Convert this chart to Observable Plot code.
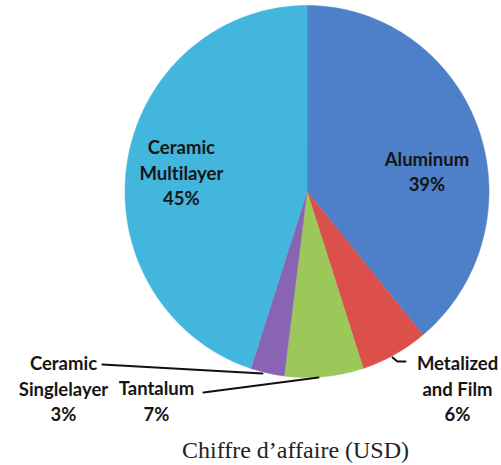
<!DOCTYPE html>
<html>
<head>
<meta charset="utf-8">
<script src="https://cdn.jsdelivr.net/npm/d3@7"></script>
<script src="https://cdn.jsdelivr.net/npm/@observablehq/plot@0.6"></script>
<style>
  html, body { margin: 0; padding: 0; background: #fff; }
  #chart svg { display: block; }
  #chart text { font-variant-ligatures: none; font-feature-settings: "liga" 0, "clig" 0; }
  #caption {
    font-family: "Liberation Serif", "Times New Roman", serif;
    font-size: 24px;
    line-height: 29px;
    color: #222;
    padding-left: 182px;
    white-space: nowrap;
  }
</style>
</head>
<body>
<div id="chart"></div>
<div id="caption">Chiffre d’affaire (USD)</div>
<script>
// ---- data ----
const categories = ["Aluminum", "Metalized and Film", "Tantalum", "Ceramic Singlelayer", "Ceramic Multilayer"];
const shares = [39, 6, 7, 3, 45];
const labelLines = [
  ["Aluminum", "39%"],
  ["Metalized", "and Film", "6%"],
  ["Tantalum", "7%"],
  ["Ceramic", "Singlelayer", "3%"],
  ["Ceramic", "Multilayer", "45%"]
];
const colors = ["#4d80c8", "#dc504b", "#9cc85a", "#8a64b4", "#43b6dd"];

// ---- layout (unit-circle coordinates) ----
const labelPos = [
  [0.659, 0.113],
  [0.827, -1.054],
  [-0.827, -1.121],
  [-1.338, -1.054],
  [-0.690, 0.108]
];
const leaders = [
  {name: "Ceramic Singlelayer", pts: [[-1.124, -0.930], [-0.245, -0.978]]},
  {name: "Tantalum", pts: [[-0.569, -1.081], [0.063, -1.0]]},
  {name: "Metalized and Film", pts: [[0.470, -0.892], [0.497, -0.914], [0.541, -0.914]]}
];

// ---- build wedges ----
const total = d3.sum(shares);
const wedgeRows = [];
let acc = 0;
categories.forEach((name, i) => {
  const a0 = acc / total * 2 * Math.PI;
  acc += shares[i];
  const a1 = acc / total * 2 * Math.PI;
  wedgeRows.push({name, u: 0, v: 0});
  const n = Math.max(2, Math.ceil((a1 - a0) / (Math.PI / 180)));
  for (let k = 0; k <= n; k++) {
    const a = a0 + (a1 - a0) * k / n;
    wedgeRows.push({name, u: Math.sin(a), v: Math.cos(a)});
  }
});

const labelRows = categories.map((name, i) => ({
  name, text: labelLines[i].join("\n"), u: labelPos[i][0], v: labelPos[i][1]
}));

const leaderRows = leaders.flatMap(l => l.pts.map(([u, v]) => ({name: l.name, u, v})));

const chart = Plot.plot({
  width: 501,
  height: 436,
  margin: 0,
  x: {domain: [-1, 1], range: [124.5, 488.5], axis: null},
  y: {domain: [-1, 1], range: [377, 5], axis: null},
  color: {domain: categories, range: colors},
  marks: [
    Plot.line(wedgeRows, {x: "u", y: "v", z: "name", fill: "name", stroke: "name", strokeWidth: 0.5, curve: "linear-closed"}),
    Plot.line(leaderRows, {x: "u", y: "v", z: "name", stroke: "#111", strokeWidth: 2}),
    Plot.text(labelRows, {
      x: "u", y: "v", text: "text",
      fontFamily: "Lato, 'Open Sans', sans-serif",
      fontWeight: "bold",
      fontSize: 18.5,
      lineHeight: 1.38,
      fill: "#151515",
      textAnchor: "middle"
    })
  ]
});
document.getElementById("chart").appendChild(chart);
</script>
</body>
</html>
